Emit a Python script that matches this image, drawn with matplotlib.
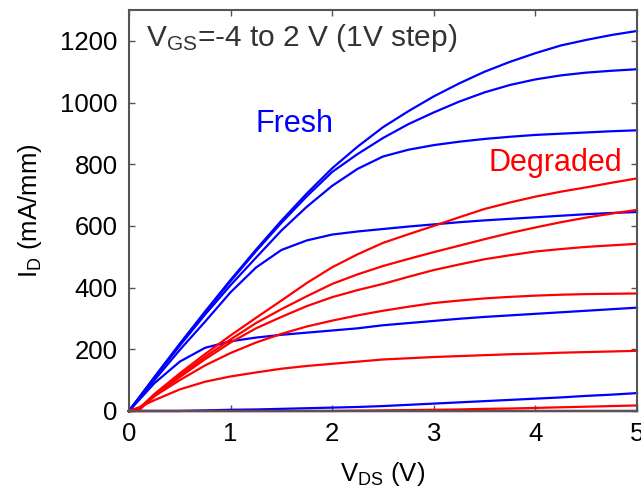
import matplotlib
matplotlib.use('Agg')
import matplotlib.pyplot as plt

plt.rcParams['font.family'] = ['Liberation Sans', 'DejaVu Sans']
plt.rcParams['mathtext.fontset'] = 'custom'
plt.rcParams['mathtext.rm'] = 'Liberation Sans'
plt.rcParams['mathtext.it'] = 'Liberation Sans:italic'

# drain voltage sample points (V)
vds = [0, 0.1, 0.25, 0.5, 0.75, 1.0, 1.25, 1.5, 1.75, 2.0, 2.25, 2.5, 2.75,
       3.0, 3.25, 3.5, 3.75, 4.0, 4.25, 4.5, 4.75, 5.0]

# fresh device, VGS = 2 ... -4 V (mA/mm)
fresh = [
    [0, 44, 110, 218, 323, 425, 523, 617, 705, 787, 857, 920, 972,
     1020, 1062, 1100, 1132, 1160, 1185, 1203, 1219, 1232],
    [0, 43, 109, 216, 320, 421, 518, 610, 696, 775, 833, 885, 930,
     968, 1003, 1033, 1057, 1075, 1088, 1097, 1103, 1108],
    [0, 43, 107, 212, 313, 408, 497, 585, 662, 730, 785, 825, 847,
     862, 873, 882, 889, 895, 899, 903, 907, 910],
    [0, 40, 100, 198, 290, 385, 465, 522, 553, 572, 582, 590, 598,
     605, 612, 618, 623, 628, 633, 638, 642, 645],
    [0, 36, 90, 160, 205, 226, 238, 247, 254, 261, 268, 278, 285,
     292, 299, 305, 310, 315, 320, 325, 330, 335],
    [0, 0, 0, 0, 2, 4, 5, 7, 9, 11, 13, 16, 20,
     24, 28, 32, 36, 40, 44, 49, 53, 58],
    [0, 0, 0, 0, 0, 0, 0, 0, 0, 0, 0, 0, 0,
     0, 0, 0, 0, 0, 0, 0, 0, 0],
]

# degraded device, VGS = 2 ... -4 V (mA/mm)
degraded = [
    [0, 8, 55, 122, 185, 245, 302, 358, 415, 466, 508, 545, 573,
     600, 628, 655, 676, 695, 711, 725, 740, 754],
    [0, 5, 50, 115, 176, 232, 285, 330, 372, 412, 443, 470, 493,
     515, 536, 557, 577, 595, 612, 627, 640, 652],
    [0, 3, 48, 110, 168, 222, 268, 305, 340, 369, 392, 412, 435,
     457, 475, 492, 505, 517, 525, 532, 537, 542],
    [0, 10, 48, 100, 148, 188, 222, 250, 274, 293, 310, 325, 338,
     350, 358, 365, 370, 374, 377, 379, 380, 381],
    [0, 12, 35, 70, 95, 112, 125, 137, 146, 153, 160, 167, 171,
     175, 178, 181, 184, 186, 189, 191, 193, 195],
    [0, 0, 0, 0, 0, 0, 0, 0, 0, 0, 1, 2, 3,
     4, 5, 7, 8, 10, 12, 14, 16, 18],
    [0, 0, 0, 0, 0, 0, 0, 0, 0, 0, 0, 0, 0,
     0, 0, 0, 0, 0, 0, 0, 0, 0],
]

fig = plt.figure(figsize=(6.41, 4.95), dpi=100)
ax = fig.add_axes([0.2012, 0.1697, 0.7926, 0.8101])

for ids in fresh:
    ax.plot(vds, ids, color='#0000ff', lw=1.6, clip_on=False)
for ids in degraded:
    ax.plot(vds, ids, color='#ff0000', lw=1.6, clip_on=False)

ax.set_xlim(0, 5)
ax.set_ylim(0, 1300)
ax.set_xticks([0, 1, 2, 3, 4, 5])
ax.set_yticks([0, 200, 400, 600, 800, 1000, 1200])
ax.tick_params(direction='in', top=True, right=True, length=4, width=1,
               color='#555555', labelsize=18.5, pad=8)
for s in ax.spines.values():
    s.set_color('#555555')
    s.set_linewidth(1.5)

ax.set_xlabel(r'V$_\mathrm{DS}$ (V)', fontsize=18.5, labelpad=10)
ax.set_ylabel(r'I$_\mathrm{D}$ (mA/mm)', fontsize=18.5, labelpad=12)

ax.text(0.17, 1208, r'V$_\mathrm{GS}$=-4 to 2 V (1V step)', fontsize=21.5,
        color='#333333', va='center', ha='left')
ax.text(1.63, 930, 'Fresh', fontsize=22, color='#0000ff', va='center', ha='center')
ax.text(4.2, 805, 'Degraded', fontsize=22, color='#ff0000', va='center', ha='center')

fig.savefig('out.png', dpi=100)
